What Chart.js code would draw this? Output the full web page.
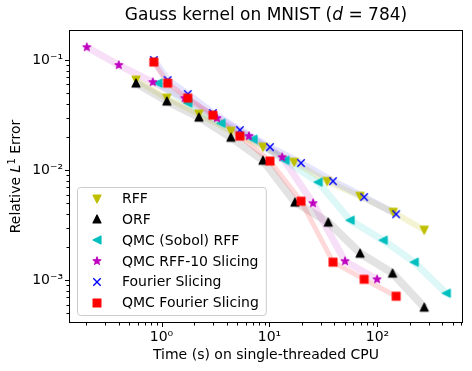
<!DOCTYPE html>
<html>
<head>
<meta charset="utf-8">
<script src="https://cdn.jsdelivr.net/npm/chart.js@4.4.2/dist/chart.umd.min.js"></script>
<style>
  html, body { margin: 0; padding: 0; background: #fff; }
  #chart { display: block; }
</style>
</head>
<body>
<canvas id="chart" width="472" height="371"></canvas>
<script>
// Methods, in legend order
const seriesNames = ['RFF', 'ORF', 'QMC (Sobol) RFF', 'QMC RFF-10 Slicing', 'Fourier Slicing', 'QMC Fourier Slicing'];

// Time (s) and relative L1 error of each method
const rffTime = [0.58, 1.12, 2.22, 4.39, 8.7, 16.9, 34.2, 69, 140, 271];
const rffErr = [0.0658, 0.0451, 0.0323, 0.0226, 0.0162, 0.0118, 0.0079, 0.0058, 0.00415, 0.00285];

const orfTime = [0.58, 1.12, 2.22, 4.39, 8.7, 17.2, 35, 69, 138, 271];
const orfErr = [0.0618, 0.0424, 0.0303, 0.0199, 0.0123, 0.00512, 0.00337, 0.00176, 0.00116, 0.000569];

const qmcRffTime = [0.924, 1.75, 3.55, 7.03, 13.9, 28.2, 55.8, 113, 219, 434];
const qmcRffErr = [0.0618, 0.0407, 0.0267, 0.0191, 0.0123, 0.00778, 0.00351, 0.00231, 0.00146, 0.000762];

const qmcRff10Time = [0.203, 0.402, 0.83, 1.64, 3.26, 6.45, 13.1, 25.3, 50.1, 99.3];
const qmcRff10Err = [0.131, 0.0901, 0.0631, 0.0451, 0.0297, 0.0204, 0.0131, 0.00501, 0.00149, 0.00102];

const fourierTime = [0.849, 1.14, 1.75, 2.99, 5.32, 10.1, 19.6, 38.8, 75.3, 149];
const fourierErr = [0.1, 0.0658, 0.0491, 0.033, 0.0231, 0.0162, 0.0116, 0.00794, 0.00569, 0.00398];

const qmcFourierTime = [0.849, 1.14, 1.75, 2.99, 5.32, 10.1, 19.6, 38.8, 75.3, 149];
const qmcFourierErr = [0.0959, 0.0618, 0.0451, 0.0316, 0.0204, 0.0121, 0.00523, 0.00146, 0.00102, 0.000716];

// Labelled ticks on both log axes
const xTickValues = [1, 10, 100];
const xTickLabels = ['10⁰', '10¹', '10²'];
const yTickValues = [0.1, 0.01, 0.001];
const yTickLabels = ['10⁻¹', '10⁻²', '10⁻³'];

const FONT = "'DejaVu Sans', sans-serif";

// matplotlib-like filled markers drawn on small canvases
function makeMarker(shape, color, size) {
  const c = document.createElement('canvas');
  c.width = 16; c.height = 16;
  const g = c.getContext('2d');
  g.translate(8, 8);
  g.fillStyle = color;
  g.strokeStyle = color;
  g.lineWidth = 1.2;
  g.lineJoin = 'round';
  const h = size / 2;
  g.beginPath();
  if (shape === 'square') {
    g.rect(-h, -h, 2 * h, 2 * h);
  } else if (shape === 'tri-up') {
    g.moveTo(0, -h); g.lineTo(h, h); g.lineTo(-h, h); g.closePath();
  } else if (shape === 'tri-down') {
    g.moveTo(0, h); g.lineTo(h, -h); g.lineTo(-h, -h); g.closePath();
  } else if (shape === 'tri-left') {
    g.moveTo(-h, 0); g.lineTo(h, -h); g.lineTo(h, h); g.closePath();
  } else if (shape === 'star') {
    for (let i = 0; i < 10; i++) {
      const r = i % 2 ? h * 0.382 : h;
      const a = -Math.PI / 2 + i * Math.PI / 5;
      g.lineTo(r * Math.cos(a), r * Math.sin(a));
    }
    g.closePath();
  } else if (shape === 'x') {
    g.lineWidth = 1.4;
    g.moveTo(-h, -h); g.lineTo(h, h);
    g.moveTo(-h, h); g.lineTo(h, -h);
    g.stroke();
    return c;
  }
  g.fill();
  g.stroke();
  return c;
}

const series = [
  { time: rffTime, err: rffErr, band: 'rgba(191,191,0,0.17)', width: 6, marker: makeMarker('tri-down', '#bfbf00', 8) },
  { time: orfTime, err: orfErr, band: 'rgba(0,0,0,0.11)', width: 8, marker: makeMarker('tri-up', '#000000', 8) },
  { time: qmcRffTime, err: qmcRffErr, band: 'rgba(0,191,191,0.13)', width: 7, marker: makeMarker('tri-left', '#00bfbf', 8) },
  { time: qmcRff10Time, err: qmcRff10Err, band: 'rgba(191,0,191,0.12)', width: 7, marker: makeMarker('star', '#bf00bf', 8.2) },
  { time: fourierTime, err: fourierErr, band: 'rgba(0,0,255,0.1)', width: 7, marker: makeMarker('x', '#0000ff', 7.4) },
  { time: qmcFourierTime, err: qmcFourierErr, band: 'rgba(255,0,0,0.15)', width: 5, marker: makeMarker('square', '#ff0000', 7.8) }
];

const toPoints = (t, e) => t.map((v, i) => ({ x: v, y: e[i] }));

// spread bands behind everything, markers on top (later method on top)
const bandSets = series.map((s, i) => ({
  data: toPoints(s.time, s.err),
  showLine: true,
  borderColor: s.band,
  borderWidth: s.width,
  borderJoinStyle: 'round',
  tension: 0,
  pointRadius: 0,
  order: 20 - i
}));
const markerSets = series.map((s, i) => ({
  label: seriesNames[i],
  data: toPoints(s.time, s.err),
  showLine: false,
  pointStyle: s.marker,
  pointRadius: 5,
  order: 10 - i
}));

function labelFor(values, labels, v) {
  const k = values.findIndex(t => Math.abs(Math.log10(t) - Math.log10(v)) < 1e-6);
  return k < 0 ? '' : labels[k];
}

function drawRich(ctx, parts, cx, baseline) {
  let total = 0;
  parts.forEach(p => { ctx.font = p.font; p.w = ctx.measureText(p.text).width; total += p.w; });
  let x = cx - total / 2;
  ctx.textAlign = 'left';
  ctx.textBaseline = 'alphabetic';
  parts.forEach(p => { ctx.font = p.font; ctx.fillText(p.text, x, baseline + (p.dy || 0)); x += p.w; });
}

const decor = {
  id: 'decor',
  afterDraw(chart) {
    const { ctx, chartArea: a, scales: { x, y } } = chart;
    ctx.save();
    ctx.fillStyle = '#000';
    ctx.strokeStyle = '#000';

    // axes frame
    ctx.lineWidth = 1;
    ctx.strokeRect(Math.round(a.left) + 0.5, Math.round(a.top) + 0.5, Math.round(a.right - a.left) - 1, Math.round(a.bottom - a.top) - 1);

    // major and minor ticks (outward)
    ctx.beginPath();
    for (let e = -4; e <= 3; e++) {
      for (let m = 1; m < 10; m++) {
        const v = m * Math.pow(10, e);
        const len = m === 1 ? 4 : 2.5;
        if (v >= x.min && v <= x.max) {
          const px = Math.round(x.getPixelForValue(v)) + 0.5;
          ctx.moveTo(px, a.bottom);
          ctx.lineTo(px, a.bottom + len);
        }
        if (v >= y.min && v <= y.max) {
          const py = Math.round(y.getPixelForValue(v)) + 0.5;
          ctx.moveTo(a.left, py);
          ctx.lineTo(a.left - len, py);
        }
      }
    }
    ctx.stroke();

    const cx = (a.left + a.right) / 2;
    const cy = (a.top + a.bottom) / 2;

    // title
    drawRich(ctx, [
      { text: 'Gauss kernel on MNIST (', font: '17px ' + FONT },
      { text: 'd', font: 'italic 17px ' + FONT },
      { text: ' = 784)', font: '17px ' + FONT }
    ], cx, 20);

    // x axis title
    drawRich(ctx, [{ text: 'Time (s) on single-threaded CPU', font: '14px ' + FONT }], cx, 359);

    // y axis title
    ctx.save();
    ctx.translate(20, cy);
    ctx.rotate(-Math.PI / 2);
    drawRich(ctx, [
      { text: 'Relative ', font: '14px ' + FONT },
      { text: 'L', font: 'italic 14px ' + FONT },
      { text: '1', font: '10px ' + FONT, dy: -5 },
      { text: ' Error', font: '14px ' + FONT }
    ], 0, 0);
    ctx.restore();

    // legend, lower left
    ctx.font = '14px ' + FONT;
    const textX = 122;
    const maxW = Math.max(...seriesNames.map(n => ctx.measureText(n).width));
    const bx = 77, by = 187, bw = textX + maxW + 7 - bx, bh = 128;
    ctx.beginPath();
    ctx.roundRect(bx + 0.5, by + 0.5, bw, bh, 3);
    ctx.fillStyle = 'rgba(255,255,255,0.8)';
    ctx.fill();
    ctx.strokeStyle = '#cccccc';
    ctx.stroke();
    ctx.fillStyle = '#000';
    ctx.textAlign = 'left';
    ctx.textBaseline = 'middle';
    seriesNames.forEach((n, i) => {
      const ry = 198.5 + i * 20.8;
      const mk = series[i].marker;
      ctx.drawImage(mk, Math.round(97 - mk.width / 2), Math.round(ry - mk.height / 2));
      ctx.fillText(n, textX, ry + 1);
    });
    ctx.restore();
  }
};

new Chart(document.getElementById('chart'), {
  type: 'scatter',
  data: { datasets: [...bandSets, ...markerSets] },
  options: {
    responsive: false,
    animation: false,
    devicePixelRatio: 1,
    events: [],
    layout: { padding: { top: 30, right: 9, left: 0, bottom: 0 } },
    plugins: {
      legend: { display: false },
      title: { display: false },
      tooltip: { enabled: false }
    },
    scales: {
      x: {
        type: 'logarithmic',
        min: 0.139,
        max: 620,
        grid: { display: false, drawTicks: false },
        border: { display: false },
        ticks: {
          autoSkip: false,
          maxRotation: 0,
          padding: 6,
          color: '#000',
          font: { family: FONT, size: 14 },
          callback: v => labelFor(xTickValues, xTickLabels, v)
        },
        afterBuildTicks: s => { s.ticks = xTickValues.map(v => ({ value: v })); },
        afterFit: s => { s.height = 48; }
      },
      y: {
        type: 'logarithmic',
        min: 0.000409,
        max: 0.1875,
        grid: { display: false, drawTicks: false },
        border: { display: false },
        ticks: {
          autoSkip: false,
          padding: 6,
          color: '#000',
          font: { family: FONT, size: 14 },
          callback: v => labelFor(yTickValues, yTickLabels, v)
        },
        afterBuildTicks: s => { s.ticks = yTickValues.map(v => ({ value: v })); },
        afterFit: s => { s.width = 69; }
      }
    }
  },
  plugins: [decor]
});
</script>
</body>
</html>
